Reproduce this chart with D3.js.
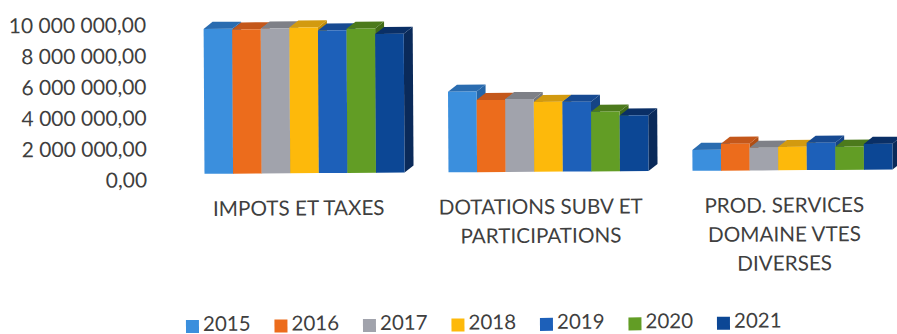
<!DOCTYPE html>
<html>
<head>
<meta charset="utf-8">
<script src="https://cdn.jsdelivr.net/npm/d3@7"></script>
<style>
html, body { margin: 0; background: #fff; }
svg { display: block; }
text { font-family: Lato, "Open Sans", sans-serif; fill: #3f3f3f; }
</style>
</head>
<body>
<svg id="chart" width="897" height="334"></svg>
<script>
// Recettes par nature, 2015 to 2021
const categories = [
  ["IMPOTS ET TAXES"],
  ["DOTATIONS SUBV ET", "PARTICIPATIONS"],
  ["PROD. SERVICES", "DOMAINE VTES", "DIVERSES"]
];
const years = ["2015", "2016", "2017", "2018", "2019", "2020", "2021"];
const impots = [9350000, 9300000, 9350000, 9400000, 9200000, 9300000, 8950000];
const dotations = [5200000, 4650000, 4700000, 4500000, 4500000, 3850000, 3600000];
const produits = [1350000, 1730000, 1460000, 1500000, 1760000, 1500000, 1670000];
const seriesValues = [impots, dotations, produits];
const tickValues = [0, 2000000, 4000000, 6000000, 8000000, 10000000];
const frontColors = ["#3b8fdd", "#ec6c1c", "#a1a3ac", "#fdb90b", "#1d60b9", "#629d25", "#0c4795"];
const topColors = ["#2a6cb0", "#c4571a", "#7e8087", "#d29a10", "#174a92", "#4c7a1c", "#0a2f66"];
const sideColors = ["#2565a6", "#b04e14", "#74767d", "#c08c0a", "#154485", "#426c18", "#0a2a5a"];

const depthX = 9, depthY = 7;
const svg = d3.select("#chart");
// The whole sheet sits very slightly askew
const root = svg.append("g").attr("transform", "rotate(-0.35 450 167)");

const y = d3.scaleLinear().domain([0, 10000000]).range([172.3, 17.3]);
const groupKeys = categories.map(c => c.join(" "));
const x0 = d3.scaleBand().domain(groupKeys).range([182.5, 914.5]).paddingInner(0.18).paddingOuter(0.09);
const x1 = d3.scaleBand().domain(years).range([0, x0.bandwidth()]);

// Value axis: labels only, set against the back wall offset
const formatValue = v => d3.format(",.2f")(v).replace(/,/g, " ").replace(".", ",");
const axis = d3.axisLeft(y).tickValues(tickValues).tickFormat(formatValue).tickSize(0).tickPadding(0);
const axisG = root.append("g").attr("transform", "translate(147,6)").call(axis);
axisG.select(".domain").remove();
axisG.selectAll("text").attr("font-size", 21).style("font-family", "Lato, sans-serif");

// Extruded columns, painted left to right so each hides its neighbour's side
const groups = root.selectAll("g.group").data(seriesValues).join("g")
  .attr("class", "group")
  .attr("transform", (d, i) => `translate(${x0(groupKeys[i])},0)`);

groups.each(function (values) {
  const g = d3.select(this);
  values.forEach((v, i) => {
    const x = x1(years[i]), w = x1.bandwidth(), top = y(v), base = y(0);
    const col = g.append("g");
    col.append("path").attr("fill", sideColors[i]).attr("d", d3.line()([
      [x + w, top], [x + w + depthX, top - depthY], [x + w + depthX, base - depthY], [x + w, base]
    ]) + "Z");
    col.append("path").attr("fill", topColors[i]).attr("d", d3.line()([
      [x, top], [x + depthX, top - depthY], [x + w + depthX, top - depthY], [x + w, top]
    ]) + "Z");
    col.append("rect").attr("fill", frontColors[i])
      .attr("x", x).attr("y", top).attr("width", w).attr("height", base - top);
  });
});

// Category labels, wrapped on their own lines
const labelX = [298.5, 540.5, 784];
root.selectAll("text.cat").data(categories).join("text")
  .attr("class", "cat")
  .attr("text-anchor", "middle")
  .attr("font-size", 20.7)
  .attr("y", 214.5)
  .each(function (lines, i) {
    d3.select(this).selectAll("tspan").data(lines).join("tspan")
      .attr("x", labelX[i])
      .attr("dy", (d, k) => k === 0 ? 0 : 29)
      .text(d => d);
  });

// Legend along the bottom
const legend = root.append("g");
const legendX = d3.scalePoint().domain(years).range([185, 716]);
years.forEach((yr, i) => {
  const lx = legendX(yr);
  legend.append("rect").attr("x", lx).attr("y", 318.5).attr("width", 13).attr("height", 13).attr("fill", frontColors[i]);
  legend.append("text").attr("x", lx + 17).attr("y", 329.5).attr("font-size", 20.5).text(yr);
});
</script>
</body>
</html>
